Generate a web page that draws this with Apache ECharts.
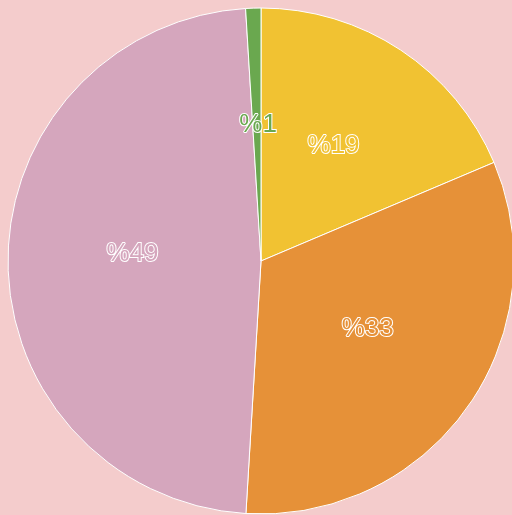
<!DOCTYPE html>
<html>
<head>
<meta charset="utf-8">
<script src="https://cdn.jsdelivr.net/npm/echarts@6/dist/echarts.min.js"></script>
<style>
  html, body { margin: 0; padding: 0; background: #F4CCCC; }
  #chart { width: 512px; height: 515px; }
</style>
</head>
<body>
<div id="chart"></div>
<script>
// slices, clockwise from 12 o'clock
const categories = ['A', 'B', 'C', 'D']
const values = [18.63, 32.32, 48.08, 0.97]
const colors = ['#F1C232', '#E69138', '#D5A6BD', '#6AA84F']

const chart = echarts.init(document.getElementById('chart'))

chart.setOption({
  animation: false,
  backgroundColor: '#F4CCCC',
  series: [
    {
      type: 'pie',
      center: [261, 261],
      radius: 253,
      startAngle: 90,
      clockwise: true,
      itemStyle: {
        borderColor: '#ffffff',
        borderWidth: 1,
      },
      label: {
        show: true,
        position: 'inside',
        offset: [1, -7],
        fontFamily: 'Liberation Sans, Arial, sans-serif',
        fontSize: 26,
        textBorderColor: '#ffffff',
        textBorderWidth: 2,
        formatter: (p) => '%' + Math.ceil(p.percent),
      },
      labelLine: { show: false },
      data: categories.map((name, i) => ({
        name: name,
        value: values[i],
        itemStyle: { color: colors[i] },
        label: { color: colors[i] },
      })),
    },
  ],
})
</script>
</body>
</html>
